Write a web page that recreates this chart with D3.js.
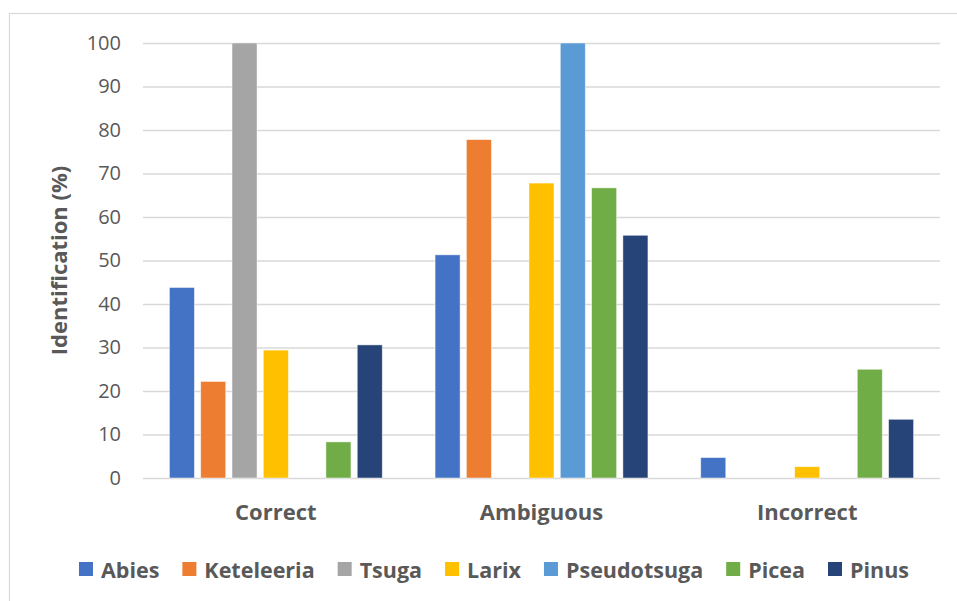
<!DOCTYPE html>
<html>
<head>
<meta charset="utf-8">
<script src="https://cdn.jsdelivr.net/npm/d3@7"></script>
<style>
  html, body { margin: 0; padding: 0; background: #fff; }
  svg { display: block; }
</style>
</head>
<body>
<svg id="chart" width="957" height="601"></svg>
<script>
// Identification outcome per genus (%)
const categories = ["Correct", "Ambiguous", "Incorrect"];
const species = ["Abies", "Keteleeria", "Tsuga", "Larix", "Pseudotsuga", "Picea", "Pinus"];
const colors = ["#4472C4", "#ED7D31", "#A5A5A5", "#FFC000", "#5B9BD5", "#70AD47", "#264478"];
const correctValues   = [43.8, 22.2, 100, 29.4, 0, 8.3, 30.6];
const ambiguousValues = [51.3, 77.8, 0, 67.8, 100, 66.7, 55.8];
const incorrectValues = [4.7, 0, 0, 2.6, 0, 25.0, 13.5];
const yTicks = [0, 10, 20, 30, 40, 50, 60, 70, 80, 90, 100];
const yTitle = "Identification (%)";

const seriesByCategory = [correctValues, ambiguousValues, incorrectValues];
const rows = [];
categories.forEach((c, ci) => species.forEach((s, si) => {
  rows.push({ category: c, species: s, value: seriesByCategory[ci][si], color: colors[si] });
}));

const svg = d3.select("#chart");
const textColor = "#595959";
const gridColor = "#d9d9d9";

// chart frame
svg.append("rect")
  .attr("x", 9.5).attr("y", 13.5)
  .attr("width", 957).attr("height", 601)
  .attr("fill", "none").attr("stroke", gridColor).attr("stroke-width", 1.2);

const plotLeft = 143, plotRight = 940, plotTop = 43, plotBottom = 478;

const x0 = d3.scaleBand().domain(categories).range([plotLeft, plotRight]);
const x1 = d3.scaleBand().domain(species).range([0, x0.bandwidth()])
  .paddingInner(0.2).paddingOuter(0.843);
const y = d3.scaleLinear().domain([0, 100]).range([plotBottom, plotTop]);

// gridlines
const yAxis = d3.axisLeft(y).tickValues(yTicks).tickSize(-(plotRight - plotLeft)).tickPadding(22);
const gy = svg.append("g").attr("transform", `translate(${plotLeft},0)`).call(yAxis);
gy.select(".domain").remove();
gy.selectAll(".tick line").attr("stroke", gridColor).attr("stroke-width", 1.3);
gy.selectAll(".tick text")
  .attr("fill", textColor)
  .style("font-family", "'Open Sans', sans-serif")
  .style("font-size", "20px");

// bars
svg.append("g").selectAll("rect")
  .data(rows.filter(d => d.value > 0))
  .join("rect")
  .attr("x", d => x0(d.category) + x1(d.species))
  .attr("y", d => y(d.value))
  .attr("width", x1.bandwidth())
  .attr("height", d => y(0) - y(d.value))
  .attr("fill", d => d.color)
  .attr("stroke", "#ffffff")
  .attr("stroke-opacity", 0.6)
  .attr("stroke-width", 0.8);

// category axis labels
const xAxis = d3.axisBottom(x0).tickSize(0).tickPadding(26);
const gx = svg.append("g").attr("transform", `translate(0,${plotBottom})`).call(xAxis);
gx.select(".domain").remove();
gx.selectAll(".tick text")
  .attr("fill", textColor)
  .style("font-family", "'Open Sans', sans-serif")
  .style("font-size", "22px")
  .style("font-weight", "bold");

// y-axis title
svg.append("text")
  .attr("transform", `translate(61,${(plotTop + plotBottom) / 2}) rotate(-90)`)
  .attr("text-anchor", "middle")
  .attr("dominant-baseline", "middle")
  .attr("fill", textColor)
  .style("font-family", "'Open Sans', sans-serif")
  .style("font-size", "22px")
  .style("font-weight", "bold")
  .text(yTitle);

// legend
const legend = svg.append("g");
const items = legend.selectAll("g").data(species).join("g");
items.append("rect")
  .attr("width", 14).attr("height", 14)
  .attr("y", -7)
  .attr("fill", (d, i) => colors[i]);
items.append("text")
  .attr("x", 22)
  .attr("dominant-baseline", "central")
  .attr("fill", textColor)
  .style("font-family", "'Open Sans', sans-serif")
  .style("font-size", "21.5px")
  .style("font-weight", "bold")
  .text(d => d);
let cursor = 0;
items.each(function () {
  const g = d3.select(this);
  g.attr("transform", `translate(${cursor},0)`);
  const w = g.select("text").node().getComputedTextLength();
  cursor += 22 + w + 23;
});
const totalWidth = cursor - 23;
legend.attr("transform", `translate(${494 - totalWidth / 2},569)`);
</script>
</body>
</html>
